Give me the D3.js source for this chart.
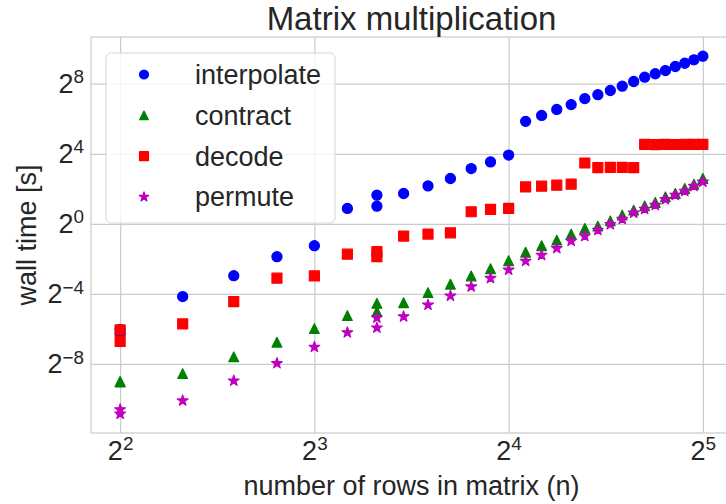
<!DOCTYPE html>
<html>
<head>
<meta charset="utf-8">
<script src="https://cdn.jsdelivr.net/npm/d3@7"></script>
<style>
  body { margin: 0; background: #fff; }
  svg { display: block; font-family: "Liberation Sans", Arial, sans-serif; }
</style>
</head>
<body>
<div id="chart"></div>
<script>
// n values (4 and 10 were run twice)
const rows = [4, 4, 5, 6, 7, 8, 9, 10, 10, 11, 12, 13, 14, 15, 16, 17, 18, 19, 20,
  21, 22, 23, 24, 25, 26, 27, 28, 29, 30, 31, 32];

// wall time in seconds
const interpolate = [0.0152, 0.0128, 0.056, 0.128, 0.272, 0.42, 1.84, 3.11, 2.01, 3.32,
  4.48, 6.01, 8.92, 11.6, 15.2, 57.7, 73, 92.7, 112, 142, 166, 196, 232, 280, 332, 380,
  432, 507, 576, 660, 761];
const contract = [0.0019, 0.00195, 0.00265, 0.00517, 0.0092, 0.0158, 0.0264, 0.043, 0.031,
  0.044, 0.0656, 0.0915, 0.127, 0.169, 0.232, 0.325, 0.42, 0.525, 0.666, 0.834, 0.913,
  1.126, 1.41, 1.72, 2.04, 2.33, 2.91, 3.32, 4.05, 4.80, 6.01];
const decode = [0.015, 0.0095, 0.019, 0.046, 0.116, 0.127, 0.30, 0.331, 0.272, 0.615,
  0.666, 0.70, 1.61, 1.77, 1.84, 4.31, 4.43, 4.61, 4.80, 11.1, 9.28, 9.35, 9.3, 9.28,
  23.3, 23.0, 23.3, 23.1, 23.3, 23.2, 23.3];
const permute = [0.00054, 0.00064, 0.00091, 0.0020, 0.0040, 0.0076, 0.0135, 0.0242, 0.0163,
  0.0254, 0.0403, 0.0575, 0.083, 0.116, 0.161, 0.229, 0.29, 0.379, 0.505, 0.615, 0.78,
  0.977, 1.20, 1.54, 1.79, 2.09, 2.62, 3.11, 3.64, 4.43, 5.25];

const seriesNames = ['interpolate', 'contract', 'decode', 'permute'];
const xTickExps = [2, 3, 4, 5];
const yTickExps = [-8, -4, 0, 4, 8];

const width = 726, height = 504;
const margin = { top: 37, right: -6, bottom: 71, left: 91 };
const innerW = width - margin.left - margin.right;
const innerH = height - margin.top - margin.bottom;
const textColor = '#262626';
const gridColor = '#cccccc';

// matplotlib-like markers
const triUp = {
  draw(ctx, size) {
    const h = Math.sqrt(size) / 2;
    ctx.moveTo(0, -h); ctx.lineTo(h, h); ctx.lineTo(-h, h); ctx.closePath();
  }
};
const series = [
  { name: seriesNames[0], values: interpolate, color: '#0000ff', type: d3.symbolCircle, size: 80 },
  { name: seriesNames[1], values: contract, color: '#008000', type: triUp, size: 95 },
  { name: seriesNames[2], values: decode, color: '#ff0000', type: d3.symbolSquare, size: 100 },
  { name: seriesNames[3], values: permute, color: '#bf00bf', type: d3.symbolStar, size: 36 }
];

const svg = d3.select('#chart').append('svg')
  .attr('width', width)
  .attr('height', height);

const x = d3.scaleLog().base(2)
  .domain([Math.pow(2, 1.85), Math.pow(2, 5.15)])
  .range([0, innerW]);
const y = d3.scaleLog().base(2)
  .domain([Math.pow(2, -11.95), Math.pow(2, 10.67)])
  .range([innerH, 0]);

const g = svg.append('g')
  .attr('transform', 'translate(' + margin.left + ',' + margin.top + ')');

// supscript tick labels like 2^{-4}
function powLabel(sel) {
  sel.each(function (d) {
    const e = Math.round(Math.log2(d));
    const t = d3.select(this).text(null);
    t.append('tspan').text('2');
    t.append('tspan').attr('font-size', '0.7em').attr('dy', '-0.52em')
      .text(String(e).replace('-', '\u2212'));
  });
}

const xAxis = g.append('g')
  .attr('transform', 'translate(0,' + innerH + ')')
  .call(d3.axisBottom(x).tickValues(xTickExps.map(e => Math.pow(2, e))).tickSize(-innerH));
xAxis.select('.domain').remove();
xAxis.selectAll('.tick line').attr('stroke', gridColor).attr('stroke-width', 1.25);
xAxis.selectAll('.tick text')
  .attr('y', 27).attr('dy', null)
  .attr('font-size', 27).attr('fill', textColor)
  .call(powLabel);

const yAxis = g.append('g')
  .call(d3.axisLeft(y).tickValues(yTickExps.map(e => Math.pow(2, e))).tickSize(-innerW));
yAxis.select('.domain').remove();
yAxis.selectAll('.tick line').attr('stroke', gridColor).attr('stroke-width', 1.25);
yAxis.selectAll('.tick text')
  .attr('x', -7).attr('dy', 9)
  .attr('font-size', 27).attr('fill', textColor)
  .call(powLabel);

// axes frame
g.append('rect')
  .attr('width', innerW).attr('height', innerH)
  .attr('fill', 'none').attr('stroke', gridColor).attr('stroke-width', 1.25);

// points (filled, with an edge of the same colour like matplotlib)
series.forEach(s => {
  g.append('g').selectAll('path')
    .data(rows.map((n, i) => [n, s.values[i]]))
    .enter().append('path')
    .attr('transform', d => 'translate(' + x(d[0]) + ',' + y(d[1]) + ')')
    .attr('d', d3.symbol().type(s.type).size(s.size))
    .attr('fill', s.color)
    .attr('stroke', s.color).attr('stroke-width', 1.2).attr('stroke-linejoin', 'round');
});

// legend
const legend = g.append('g').attr('transform', 'translate(15,16)');
legend.append('rect')
  .attr('width', 229).attr('height', 170).attr('rx', 5)
  .attr('fill', 'rgba(255,255,255,0.8)')
  .attr('stroke', '#d6d6d6').attr('stroke-width', 1);
const item = legend.selectAll('.item')
  .data(series)
  .enter().append('g')
  .attr('transform', (d, i) => 'translate(0,' + (21.5 + i * 40.8) + ')');
item.append('path')
  .attr('transform', 'translate(38,0)')
  .attr('d', d => d3.symbol().type(d.type).size(d.size * 0.8)())
  .attr('fill', d => d.color)
  .attr('stroke', d => d.color).attr('stroke-width', 1.2).attr('stroke-linejoin', 'round');
item.append('text')
  .attr('x', 89).attr('dy', '0.35em')
  .attr('font-size', 27).attr('fill', textColor)
  .text(d => d.name);

// title and axis labels
svg.append('text')
  .attr('x', margin.left + innerW / 2).attr('y', 30)
  .attr('text-anchor', 'middle')
  .attr('font-size', 33).attr('fill', textColor)
  .text('Matrix multiplication');

svg.append('text')
  .attr('x', margin.left + innerW / 2).attr('y', 495)
  .attr('text-anchor', 'middle')
  .attr('font-size', 27).attr('fill', textColor)
  .text('number of rows in matrix (n)');

svg.append('text')
  .attr('transform', 'translate(36,' + (margin.top + innerH / 2) + ') rotate(-90)')
  .attr('text-anchor', 'middle')
  .attr('font-size', 27).attr('fill', textColor)
  .text('wall time [s]');
</script>
</body>
</html>
